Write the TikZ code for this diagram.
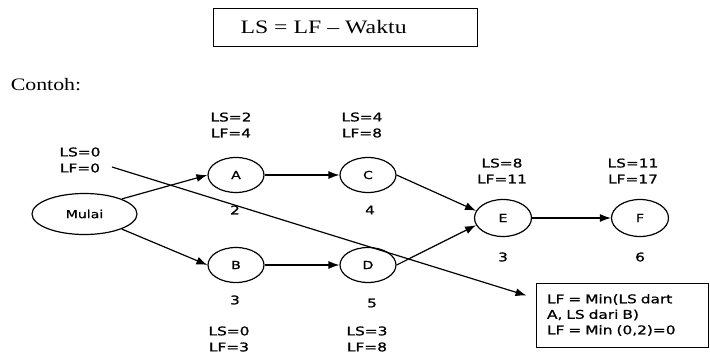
\documentclass[tikz,border=0pt]{standalone}
\usepackage{fontspec}
\setmainfont{Liberation Serif}
\newfontfamily\serifw[FakeStretch=1.25]{Liberation Serif}
\newfontfamily\sansw[FakeStretch=1.28,FakeBold=0.9]{DejaVu Sans}
\usetikzlibrary{arrows.meta,shapes.geometric,calc}
\begin{document}
\begin{tikzpicture}[x=1pt,y=-1pt,
 ev/.style={draw, ellipse, line width=1.2pt, minimum width=56pt, minimum height=35pt, inner sep=0pt, font=\sansw\fontsize{11}{13}\selectfont},
 lbl/.style={font=\sansw\fontsize{12}{16}\selectfont, align=center, inner sep=0pt},
 arr/.style={-{Latex[length=11pt,width=8pt]}, line width=1.2pt},
]
\useasboundingbox (0,0) rectangle (710,356);
% heading
\node[draw, line width=0.8pt, minimum height=38pt, text width=238pt, inner xsep=13pt, align=left] (formula) at (345.5,27)
  {\hspace*{14pt}\serifw\fontsize{19}{21}\selectfont LS\hspace{6pt}=\hspace{6pt}LF\hspace{6pt}–\hspace{6pt}Waktu};
\node[font=\serifw\fontsize{17.5}{19}\selectfont, inner sep=0pt] (contoh) at (46,85) {Contoh:};
% events
\node[ev, minimum width=105pt, minimum height=41pt] (mulai) at (84.5,214) {Mulai};
\node[ev] (A) at (236,175) {A};
\node[ev] (B) at (236,265) {B};
\node[ev] (C) at (368,175) {C};
\node[ev] (D) at (368,265) {D};
\node[ev, minimum width=57pt, minimum height=37pt] (E) at (503,218) {E};
\node[ev, minimum width=57pt, minimum height=37pt] (F) at (640,218) {F};
% LS/LF labels
\node[lbl] (l0) at (80,160) {LS=0\\LF=0};
\node[lbl] (lA) at (231,125) {LS=2\\LF=4};
\node[lbl] (lB) at (229,339) {LS=0\\LF=3};
\node[lbl] (lC) at (362,125) {LS=4\\LF=8};
\node[lbl] (lD) at (367,339) {LS=3\\LF=8};
\node[lbl] (lE) at (502,171) {LS=8\\LF=11};
\node[lbl] (lF) at (633,171) {LS=11\\LF=17};
% durations
\node[lbl] (dA) at (235,210) {2};
\node[lbl] (dB) at (235,300) {3};
\node[lbl] (dC) at (370,210) {4};
\node[lbl] (dD) at (372,303) {5};
\node[lbl] (dE) at (503,257) {3};
\node[lbl] (dF) at (640,257) {6};
% note
\node[draw, line width=0.9pt, minimum height=64pt, text width=150pt, inner xsep=11pt, align=left,
  font=\sansw\fontsize{12}{15.5}\selectfont] (note) at (622,315)
  {LF = Min(LS dart\\A, LS dari B)\\LF = Min (0,2)=0};
% connectors
\draw[arr] (mulai.22) -- (A.west);
\draw[arr] (mulai.-22) -- (B.west);
\draw[arr] (A.east) -- (C.west);
\draw[arr] (B.east) -- (D.west);
\draw[arr] (C.east) -- (E.165);
\draw[arr] (D.east) -- (E.195);
\draw[arr] (E.east) -- (F.west);
\coordinate (s) at (112,167);
\draw[arr] (s) -- ($(note.north west)+(-9,13)$);
\end{tikzpicture}
\end{document}
